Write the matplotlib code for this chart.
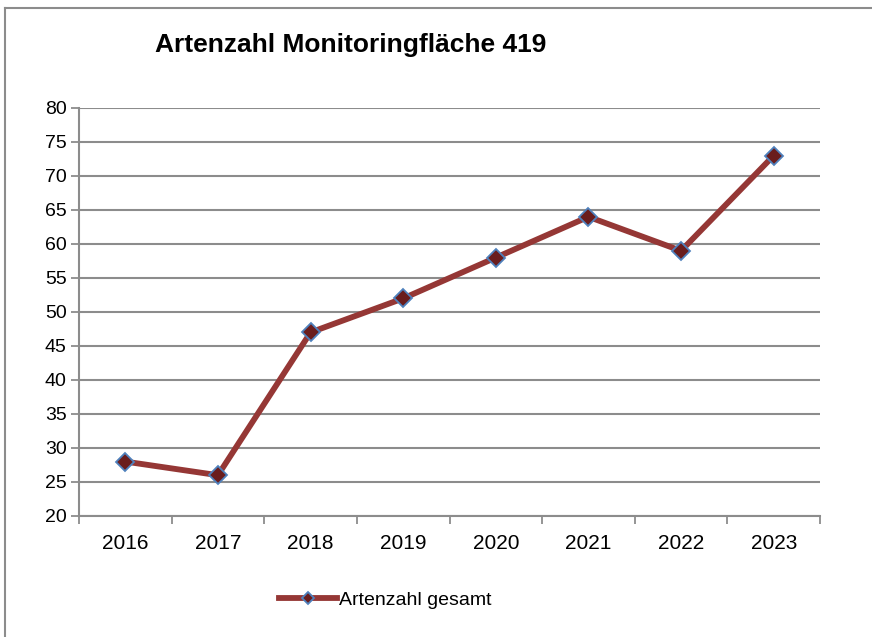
import matplotlib
matplotlib.use("Agg")
import matplotlib.pyplot as plt
from matplotlib.lines import Line2D
import numpy as np

years = ["2016", "2017", "2018", "2019", "2020", "2021", "2022", "2023"]
values = [28, 26, 47, 52, 58, 64, 59, 73]
yticks = [20, 25, 30, 35, 40, 45, 50, 55, 60, 65, 70, 75, 80]

plt.rcParams['font.family'] = ['Liberation Sans', 'DejaVu Sans']

fig = plt.figure(figsize=(8.72, 6.37), dpi=100)
W, H = 872, 637
ax = fig.add_axes([79 / W, 1 - 516 / H, (820 - 79) / W, (516 - 108) / H])

# frame around chart area
fig.add_artist(Line2D([5 / W, 5 / W], [0, 1 - 8 / H], transform=fig.transFigure, color="#8c8c8c", lw=1.5))
fig.add_artist(Line2D([5 / W, 1], [1 - 8 / H, 1 - 8 / H], transform=fig.transFigure, color="#8c8c8c", lw=1.5))

x = np.arange(len(years))
ax.plot(x, values, color="#953735", lw=4.2, marker="D", markersize=9.5,
        markerfacecolor="#6a1d1d", markeredgecolor="#4f81bd", markeredgewidth=1.3,
        label="Artenzahl gesamt", zorder=3)

ax.set_xlim(-0.5, len(years) - 0.5)
ax.set_ylim(20, 80)
ax.set_yticks(yticks)
ax.set_yticklabels([str(v) for v in yticks], fontsize=14)
ax.set_xticks(x)
ax.set_xticklabels(years, fontsize=15)
ax.set_xticks(np.arange(len(years) + 1) - 0.5, minor=True)
ax.tick_params(axis="x", which="major", length=0, pad=13)
ax.tick_params(axis="x", which="minor", length=6, color="#8c8c8c", width=1.3, direction="out")
ax.tick_params(axis="y", length=6, color="#8c8c8c", width=1.3, direction="out", pad=3)

ax.grid(axis="y", color="#8c8c8c", lw=1.5)
ax.set_axisbelow(True)
for s in ["top", "right"]:
    ax.spines[s].set_visible(False)
for s in ["left", "bottom"]:
    ax.spines[s].set_color("#8c8c8c")
    ax.spines[s].set_linewidth(1.5)

fig.text(155 / W, 1 - 45 / H, "Artenzahl Monitoringfläche 419", fontsize=19,
         fontweight="bold", ha="left", va="center")

leg = fig.legend(loc="center", bbox_to_anchor=(385 / W, 1 - 600 / H), frameon=False,
           fontsize=14, handlelength=3.0, handletextpad=0.1, markerscale=0.6)

fig.savefig("out.png", dpi=100)
